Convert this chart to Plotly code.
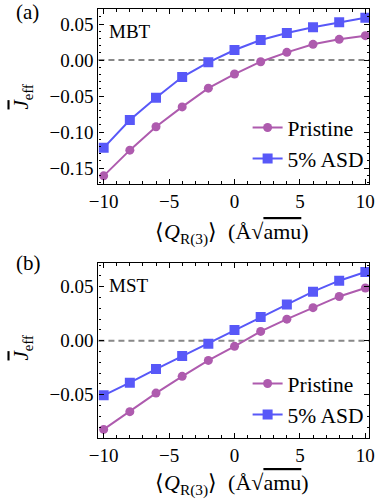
import plotly.graph_objects as go
from plotly.subplots import make_subplots

# ---- data ----
q = [-10, -8, -6, -4, -2, 0, 2, 4, 6, 8, 10]
mbt_pristine = [-0.1607, -0.125, -0.0926, -0.065, -0.039, -0.0194, -0.0023, 0.0107, 0.0218, 0.0287, 0.0338]
mbt_asd = [-0.1218, -0.0833, -0.0523, -0.0236, -0.0032, 0.0139, 0.0278, 0.0375, 0.0454, 0.0523, 0.0588]
mst_pristine = [-0.0821, -0.0657, -0.0485, -0.033, -0.0182, -0.0052, 0.0086, 0.020, 0.0306, 0.041, 0.0488]
mst_asd = [-0.0506, -0.0389, -0.0262, -0.0142, -0.0028, 0.0099, 0.0219, 0.0336, 0.0454, 0.0556, 0.0636]

x_tickvals = [-10, -5, 0, 5, 10]
x_ticktext = ["\u221210", "\u22125", "0", "5", "10"]
ya_tickvals = [-0.15, -0.10, -0.05, 0.00, 0.05]
ya_ticktext = ["\u22120.15", "\u22120.10", "\u22120.05", "0.00", "0.05"]
yb_tickvals = [-0.05, 0.00, 0.05]
yb_ticktext = ["\u22120.05", "0.00", "0.05"]

series_names = ["Pristine", "5% ASD"]
panel_labels = ["(a)", "(b)"]
material_labels = ["MBT", "MST"]

PURPLE = "#AE5BAE"
BLUE = "#5858F8"
FONT = "Liberation Serif"
W, H = 382, 504

fig = make_subplots(rows=2, cols=1)

def add_panel(row, pristine, asd, legend):
    fig.add_trace(go.Scatter(x=q, y=pristine, mode="lines+markers", name=series_names[0],
                             line=dict(color=PURPLE, width=2),
                             marker=dict(symbol="circle", size=9, color=PURPLE),
                             legend=legend), row=row, col=1)
    fig.add_trace(go.Scatter(x=q, y=asd, mode="lines+markers", name=series_names[1],
                             line=dict(color=BLUE, width=2),
                             marker=dict(symbol="square", size=10, color=BLUE),
                             legend=legend), row=row, col=1)
    fig.add_hline(y=0, line=dict(color="#888888", width=2, dash="6px,4px"), layer="below", row=row, col=1)

add_panel(1, mbt_pristine, mbt_asd, "legend")
add_panel(2, mst_pristine, mst_asd, "legend2")

def px2x(p):
    return p / W

def px2y(p):
    return 1 - p / H

xdom = [px2x(92.3), px2x(375)]
ya_dom = [px2y(184), px2y(9.3)]
yb_dom = [px2y(437.7), px2y(263.3)]

axis_common = dict(showline=True, linecolor="black", linewidth=1.3, mirror="allticks",
                   ticks="inside", ticklen=5, tickwidth=1, tickcolor="black",
                   showgrid=False, zeroline=False, ticklabeloverflow="allow",
                   tickfont=dict(family=FONT, size=19, color="black"))

fig.update_xaxes(range=[-10.4, 10.3], tickvals=x_tickvals, ticktext=x_ticktext, domain=xdom,
                 minor=dict(ticks="inside", ticklen=2.5, dtick=1, tick0=0, tickcolor="black", showgrid=False),
                 **axis_common)
fig.update_yaxes(range=[-0.172, 0.0704], tickvals=ya_tickvals, ticktext=ya_ticktext, domain=ya_dom,
                 minor=dict(ticks="inside", ticklen=2.5, dtick=0.01, tick0=0, tickcolor="black", showgrid=False),
                 row=1, col=1, **axis_common)
fig.update_yaxes(range=[-0.0898, 0.0717], tickvals=yb_tickvals, ticktext=yb_ticktext, domain=yb_dom,
                 minor=dict(ticks="inside", ticklen=2.5, dtick=0.01, tick0=0, tickcolor="black", showgrid=False),
                 row=2, col=1, **axis_common)

xtitle = ("\u27e8<i>Q</i><sub>R(3)</sub>\u27e9\u00a0\u00a0(\u00c5\u221a"
          "<span style='text-decoration:overline'>amu</span>)")
ytitle = "<i><span style='text-decoration:overline'>J</span></i><sub>eff</sub>"

annots = []
for i, (ytop, xt_y, ymid) in enumerate([(12, 250, 97), (263, 501, 348)]):
    annots.append(dict(text=panel_labels[i], x=px2x(4), y=px2y(ytop), xref="paper", yref="paper",
                       xanchor="left", yanchor="middle", showarrow=False,
                       font=dict(family=FONT, size=21, color="black")))
    annots.append(dict(text=xtitle, x=px2x(232), y=px2y(xt_y), xref="paper", yref="paper",
                       xanchor="center", yanchor="bottom", showarrow=False,
                       font=dict(family=FONT, size=22, color="black")))
    annots.append(dict(text=ytitle, x=px2x(13), y=px2y(ymid), xref="paper", yref="paper",
                       xanchor="center", yanchor="middle", showarrow=False, textangle=-90,
                       font=dict(family=FONT, size=21, color="black")))
annots.append(dict(text=material_labels[0], x=px2x(101), y=px2y(31), xref="paper", yref="paper",
                   xanchor="left", yanchor="middle", showarrow=False,
                   font=dict(family=FONT, size=19, color="black")))
annots.append(dict(text=material_labels[1], x=px2x(101), y=px2y(285), xref="paper", yref="paper",
                   xanchor="left", yanchor="middle", showarrow=False,
                   font=dict(family=FONT, size=19, color="black")))

legend_style = dict(xanchor="left", yanchor="top", bgcolor="rgba(0,0,0,0)",
                    font=dict(family=FONT, size=21.5, color="black"), itemwidth=30,
                    tracegroupgap=0)
fig.update_layout(
    width=W, height=H, autosize=False,
    margin=dict(l=0, r=0, t=0, b=0),
    plot_bgcolor="white", paper_bgcolor="white",
    font=dict(family=FONT),
    annotations=annots,
    legend=dict(x=px2x(248), y=px2y(107), **legend_style),
    legend2=dict(x=px2x(248), y=px2y(363), **legend_style),
    showlegend=True,
)

fig.write_html("out.html", config={"displayModeBar": False},
               post_script="document.body.style.margin='0';document.body.style.overflow='hidden';")
